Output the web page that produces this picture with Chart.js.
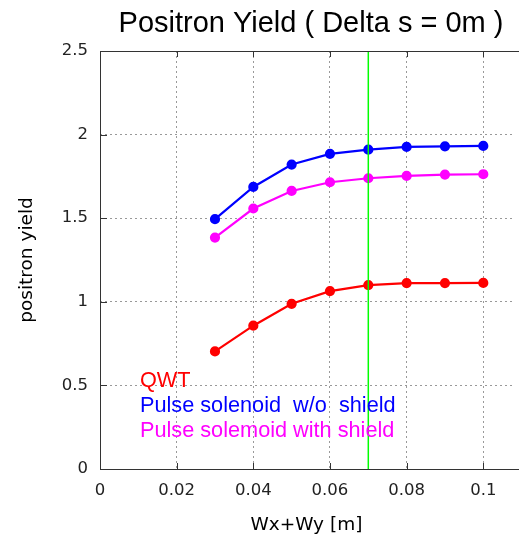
<!DOCTYPE html>
<html>
<head>
<meta charset="utf-8">
<script src="https://cdn.jsdelivr.net/npm/chart.js@4"></script>
<style>
  html, body { margin: 0; padding: 0; background: #fff; overflow: hidden; }
  #wrap { width: 519px; height: 536px; }
</style>
</head>
<body>
<div id="wrap"><canvas id="myChart"></canvas></div>
<script>
const xValues = [0.03, 0.04, 0.05, 0.06, 0.07, 0.08, 0.09, 0.1];
const qwt = [0.703, 0.857, 0.988, 1.064, 1.100, 1.112, 1.112, 1.113];
const noShield = [1.494, 1.687, 1.821, 1.885, 1.910, 1.926, 1.930, 1.932];
const withShield = [1.384, 1.558, 1.663, 1.715, 1.739, 1.753, 1.761, 1.763];
const seriesNames = ['QWT', 'Pulse solenoid  w/o  shield', 'Pulse solemoid with shield'];
const seriesColors = ['#ff0000', '#0000ff', '#ff00ff'];
const markerX = 0.07;
const markerY = [0, 2.5];

const toPoints = ys => ys.map((y, i) => ({ x: xValues[i], y: y }));

const makeSeries = (ys, i) => ({
  label: seriesNames[i],
  data: toPoints(ys),
  borderColor: seriesColors[i],
  backgroundColor: seriesColors[i],
  borderWidth: 2.2,
  pointRadius: 4,
  pointHoverRadius: 4,
  tension: 0
});

// gnuplot-like border, inward ticks, title and in-plot key
const gnuplotBits = {
  id: 'gnuplotBits',
  afterDatasetsDraw(chart) {
    const { ctx, chartArea: a, scales } = chart;
    ctx.save();
    ctx.strokeStyle = '#333';
    ctx.lineWidth = 1;
    ctx.beginPath();
    ctx.moveTo(a.left + 0.5, a.bottom + 0.5);
    ctx.lineTo(a.left + 0.5, a.top + 0.5);
    ctx.lineTo(chart.width, a.top + 0.5);
    ctx.moveTo(a.left, a.bottom + 0.5);
    ctx.lineTo(chart.width, a.bottom + 0.5);
    scales.x.ticks.forEach(t => {
      const px = Math.round(scales.x.getPixelForValue(t.value)) + 0.5;
      ctx.moveTo(px, a.bottom);
      ctx.lineTo(px, a.bottom - 6);
      ctx.moveTo(px, a.top);
      ctx.lineTo(px, a.top + 6);
    });
    scales.y.ticks.forEach(t => {
      const py = Math.round(scales.y.getPixelForValue(t.value)) + 0.5;
      ctx.moveTo(a.left, py);
      ctx.lineTo(a.left + 7, py);
    });
    ctx.stroke();

    ctx.fillStyle = '#000';
    ctx.font = '29px "Liberation Sans", Arial, sans-serif';
    ctx.textAlign = 'center';
    ctx.textBaseline = 'alphabetic';
    ctx.fillText('Positron Yield ( Delta s = 0m )', 311, 32);

    ctx.font = '21.7px "Liberation Sans", Arial, sans-serif';
    ctx.textAlign = 'left';
    const baseY = [387, 412, 437];
    seriesNames.forEach((name, i) => {
      ctx.fillStyle = seriesColors[i];
      ctx.fillText(name, 140, baseY[i]);
    });
    ctx.restore();
  }
};

const ctx = document.getElementById('myChart').getContext('2d');
let myChart = new Chart(ctx, {
  type: 'line',
  data: {
    datasets: [
      {
        label: 'marker',
        data: markerY.map(y => ({ x: markerX, y: y })),
        borderColor: '#00ff00',
        borderWidth: 1.5,
        pointRadius: 0,
        tension: 0
      },
      makeSeries(qwt, 0),
      makeSeries(noShield, 1),
      makeSeries(withShield, 2)
    ]
  },
  options: {
    responsive: true,
    maintainAspectRatio: false,
    animation: false,
    layout: { padding: { top: 51, right: 0, left: 0, bottom: 0 } },
    plugins: {
      legend: { display: false },
      title: { display: false },
      tooltip: { enabled: false }
    },
    scales: {
      x: {
        type: 'linear',
        min: 0,
        max: 0.1077,
        border: { display: false, dash: [2, 3] },
        grid: { color: '#999', lineWidth: 1, drawTicks: false },
        ticks: {
          stepSize: 0.02,
          includeBounds: false,
          color: '#222',
          padding: 12,
          font: { family: '"DejaVu Sans"', size: 16.5 },
          callback: v => String(parseFloat(v.toFixed(3)))
        },
        title: {
          display: true,
          text: 'Wx+Wy [m]',
          color: '#000',
          font: { family: '"DejaVu Sans"', size: 18.5 },
          padding: { top: 6, bottom: 0 }
        },
        afterFit: s => { s.height = 67; s.paddingRight = 0; }
      },
      y: {
        min: 0,
        max: 2.5,
        border: { display: false, dash: [2, 3] },
        grid: { color: '#999', drawTicks: false },
        ticks: {
          stepSize: 0.5,
          color: '#222',
          padding: 12,
          font: { family: '"DejaVu Sans"', size: 16.5 },
          callback: v => String(parseFloat(v.toFixed(2)))
        },
        title: {
          display: true,
          text: 'positron yield',
          color: '#000',
          font: { family: '"DejaVu Sans"', size: 18.5 },
          padding: { top: 16, bottom: 0 }
        },
        afterFit: s => { s.width = 100; }
      }
    }
  },
  plugins: [gnuplotBits]
});
</script>
</body>
</html>
